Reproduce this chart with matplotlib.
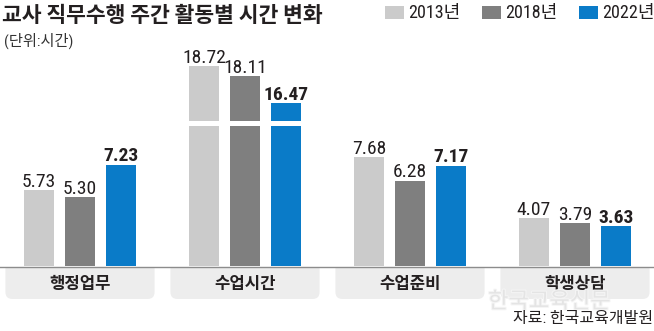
import matplotlib
matplotlib.use('Agg')
import matplotlib.pyplot as plt
from matplotlib import font_manager
from matplotlib.patches import FancyBboxPatch, Rectangle
from matplotlib.lines import Line2D
import matplotlib.patheffects as pe
import numpy as np

# ---------------- data ----------------
categories = ['행정업무', '수업시간', '수업준비', '학생상담']
years = ['2013년', '2018년', '2022년']
v2013 = [5.73, 18.72, 7.68, 4.07]
v2018 = [5.30, 18.11, 6.28, 3.79]
v2022 = [7.23, 16.47, 7.17, 3.63]
series = [v2013, v2018, v2022]
colors = ['#cbcbcb', '#7f7f7f', '#0a7bc8']
title = '교사 직무수행 주간 활동별 시간 변화'
unit = '(단위:시간)'
source = '자료: 한국교육개발원'
watermark = '한국교육신문'

# ---------------- fonts ----------------
names = {f.name for f in font_manager.fontManager.ttflist}
num_font = 'Liberation Sans'
for cand in ['Roboto Condensed', 'Archivo Narrow', 'Liberation Sans Narrow',
             'Arial Narrow', 'Asap Condensed', 'Open Sans Condensed']:
    if cand in names:
        num_font = cand
        break
KR = 'Noto Sans CJK KR'
plt.rcParams['font.family'] = [num_font, KR, 'DejaVu Sans']
TXT = '#231f20'

W, H = 654, 331
fig = plt.figure(figsize=(W / 100, H / 100), dpi=100)


def fy(px):
    return 1 - px / H


def fx(px):
    return px / W


xlim = (-80 / 165, (W - 80) / 165)
x = np.arange(len(categories))
offsets = [-0.2485, 0.0, 0.2485]
bw = 0.182

# broken axis: lower and upper parts
ax_lo = fig.add_axes([0, fy(266), 1, (266 - 126) / H])
ax_hi = fig.add_axes([0, fy(121), 1, (121 - 40) / H])
ax_lo.set_ylim(1.27, 1.27 + 140 / 17)
ax_hi.set_ylim(15.38, 15.38 + 81 / 16.5)
for ax in (ax_lo, ax_hi):
    ax.set_xlim(*xlim)
    ax.axis('off')
    ax.patch.set_alpha(0)
    for j, vals in enumerate(series):
        ax.bar(x + offsets[j], vals, bw, color=colors[j], zorder=2)

lo_top = ax_lo.get_ylim()[1]
for j, vals in enumerate(series):
    for i, v in enumerate(vals):
        ax = ax_hi if v > lo_top else ax_lo
        ax.annotate(f'{v:.2f}', (x[i] + offsets[j], v), xytext=(0, 2.4),
                    textcoords='offset points', ha='center', va='baseline',
                    fontsize=14, color=TXT,
                    fontweight='bold' if j == 2 else 'normal',
                    annotation_clip=False)

# baseline
fig.add_artist(Line2D([0, 1], [fy(266.5)] * 2, transform=fig.transFigure,
                      color='#8c8c8c', lw=1.0))

# category band
ax_b = fig.add_axes([0, fy(299), 1, (299 - 267) / H])
ax_b.set_xlim(*xlim)
ax_b.set_ylim(0, 32)
ax_b.axis('off')
ax_b.patch.set_alpha(0)
for i, cat in enumerate(categories):
    p = FancyBboxPatch((x[i] - 0.452, 0), 0.904, 45,
                       boxstyle='round,pad=0,rounding_size=0.042',
                       mutation_aspect=165, facecolor='#ededed',
                       edgecolor='none', clip_on=True)
    ax_b.add_patch(p)
    ax_b.text(x[i], 15.5, cat, ha='center', va='center', fontsize=12,
              fontweight='bold', family=KR, color=TXT)

# title & unit
fig.text(fx(2), fy(15.5), title, fontsize=15.5, fontweight='bold', family=KR,
         ha='left', va='center', color=TXT)
fig.text(fx(4), fy(41), unit, fontsize=11, family=[num_font, KR],
         ha='left', va='center', color='#333333')

# legend
leg_left = [385, 482, 579]
for j, yr in enumerate(years):
    fig.add_artist(Rectangle((fx(leg_left[j]), fy(18.5)), 19 / W, 12 / H,
                             transform=fig.transFigure, facecolor=colors[j],
                             edgecolor='none'))
    fig.text(fx(leg_left[j] + 23), fy(13), yr, fontsize=13,
             family=[num_font, KR], ha='left', va='center', color=TXT)

# watermark & source
fig.text(fx(488), fy(301.5), watermark, fontsize=16, family=KR, color='#e4e4e4',
         ha='left', va='center', zorder=3,
         path_effects=[pe.withStroke(linewidth=1.5, foreground='#f5f5f5')])
fig.text(fx(653), fy(319), source, fontsize=11.5, family=[num_font, KR],
         ha='right', va='center', color=TXT, zorder=4)

fig.savefig('out.png', dpi=100)
